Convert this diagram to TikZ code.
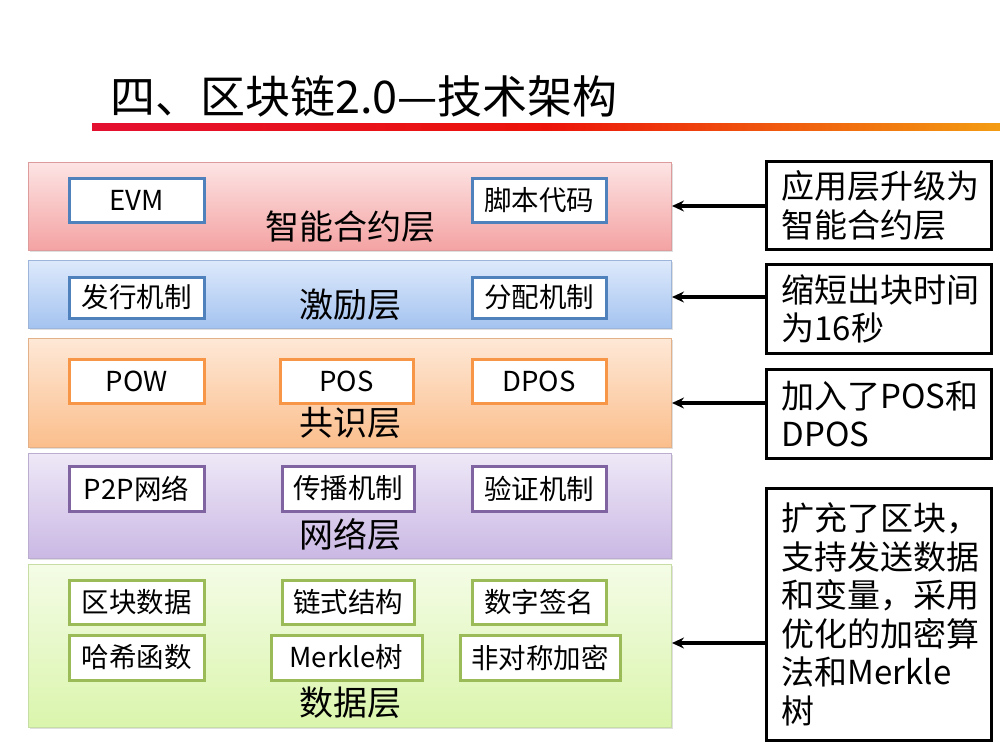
\documentclass[tikz,border=0pt]{standalone}
\usepackage{fontspec}
\setmainfont{Noto Sans CJK SC}
\usetikzlibrary{arrows.meta,shadows}
\definecolor{edgeblue}{RGB}{79,129,189}
\definecolor{edgeorange}{RGB}{247,150,70}
\definecolor{edgepurple}{RGB}{128,100,162}
\definecolor{edgegreen}{RGB}{155,187,89}
\definecolor{redtop}{RGB}{253,228,228}
\definecolor{redbot}{RGB}{244,162,162}
\definecolor{bluetop}{RGB}{221,233,251}
\definecolor{bluebot}{RGB}{164,195,240}
\definecolor{orangetop}{RGB}{254,232,214}
\definecolor{orangebot}{RGB}{251,190,140}
\definecolor{purpletop}{RGB}{238,232,247}
\definecolor{purplebot}{RGB}{202,184,228}
\definecolor{greentop}{RGB}{244,252,230}
\definecolor{greenbot}{RGB}{218,245,172}
\definecolor{barred}{RGB}{228,16,48}
\definecolor{barmid}{RGB}{236,20,10}
\definecolor{barorange}{RGB}{243,156,18}
\tikzset{
  layer/.style={anchor=north west, inner sep=0pt, shading=axis, draw=#1,
    line width=1pt, drop shadow={opacity=0.25, shadow xshift=1.2pt, shadow yshift=-1.5pt}},
  item/.style={draw=#1, line width=3pt, fill=white, inner sep=0pt,
    font=\fontsize{27.5}{30}\selectfont},
  tag/.style={font=\fontsize{34}{36}\selectfont, inner sep=0pt},
  note/.style={draw=black, line width=3.2pt, fill=white, anchor=north west,
    inner sep=0pt, align=left, font=\fontsize{33}{38.5}\selectfont},
  arr/.style={-{Stealth[length=12pt,width=11pt,inset=4pt]}, line width=3.8pt, black}
}
\begin{document}
\begin{tikzpicture}[x=1pt,y=-1pt]
\useasboundingbox[fill=white] (0,0) rectangle (1000,750);

% title and underline bar
\node[anchor=base west, inner sep=0pt, font=\fontsize{45}{50}\selectfont] (title) at (110,113) {四、区块链2.0—技术架构};
\shade[left color=barred, right color=barorange, middle color=barmid]
  (92,123) rectangle (1000,130);

% layers
\node[layer=redbot!80!gray, top color=redtop, bottom color=redbot, minimum width=643pt, minimum height=88pt] (l1) at (28,162) {};
\node[layer=bluebot!80!gray, top color=bluetop, bottom color=bluebot, minimum width=643pt, minimum height=68pt] (l2) at (28,260) {};
\node[layer=orangebot!80!gray, top color=orangetop, bottom color=orangebot, minimum width=643pt, minimum height=109pt] (l3) at (28,338) {};
\node[layer=purplebot!80!gray, top color=purpletop, bottom color=purplebot, minimum width=643pt, minimum height=105pt] (l4) at (28,453) {};
\node[layer=greenbot!80!gray, top color=greentop, bottom color=greenbot, minimum width=643pt, minimum height=163pt] (l5) at (28,564) {};

% smart contract layer
\node[item=edgeblue, minimum width=135pt, minimum height=44pt] (evm) at (136.5,200) {EVM};
\node[item=edgeblue, minimum width=134pt, minimum height=44pt] (script) at (539,200) {脚本代码};
\node[tag] (t1) at (350,227) {智能合约层};

% incentive layer
\node[item=edgeblue, minimum width=135pt, minimum height=41pt] (issue) at (136.5,297.5) {发行机制};
\node[item=edgeblue, minimum width=134pt, minimum height=41pt] (alloc) at (539,297.5) {分配机制};
\node[tag] (t2) at (350,305) {激励层};

% consensus layer
\node[item=edgeorange, minimum width=135pt, minimum height=44pt] (pow) at (136.5,381) {POW};
\node[item=edgeorange, minimum width=133pt, minimum height=44pt] (pos) at (346.5,381) {POS};
\node[item=edgeorange, minimum width=134pt, minimum height=44pt] (dpos) at (539,381) {DPOS};
\node[tag] (t3) at (350,423) {共识层};

% network layer
\node[item=edgepurple, minimum width=135pt, minimum height=45pt] (p2p) at (136.5,488.5) {P2P网络};
\node[item=edgepurple, minimum width=132pt, minimum height=45pt] (prop) at (348,488.5) {传播机制};
\node[item=edgepurple, minimum width=134pt, minimum height=45pt] (verify) at (539,488.5) {验证机制};
\node[tag] (t4) at (350,535) {网络层};

% data layer
\node[item=edgegreen, minimum width=135pt, minimum height=44pt] (blk) at (136.5,602) {区块数据};
\node[item=edgegreen, minimum width=132pt, minimum height=44pt] (chain) at (348,602) {链式结构};
\node[item=edgegreen, minimum width=134pt, minimum height=44pt] (sign) at (539,602) {数字签名};
\node[item=edgegreen, minimum width=135pt, minimum height=45pt] (hash) at (136.5,657.5) {哈希函数};
\node[item=edgegreen, minimum width=151pt, minimum height=45pt] (merkle) at (346.5,657.5) {Merkle树};
\node[item=edgegreen, minimum width=160pt, minimum height=45pt] (asym) at (540,657.5) {非对称加密};
\node[tag] (t5) at (350,703) {数据层};

% notes on the right
\node[note, minimum width=225pt, minimum height=88pt, text width=215pt] (n1) at (765,160) {\hspace*{10pt}应用层升级为\\\hspace*{10pt}智能合约层};
\node[note, minimum width=225pt, minimum height=89pt, text width=215pt] (n2) at (765,263) {\hspace*{10pt}缩短出块时间\\\hspace*{10pt}为16秒};
\node[note, minimum width=225pt, minimum height=89pt, text width=215pt] (n3) at (765,368) {\hspace*{10pt}加入了POS和\\\hspace*{10pt}DPOS};
\node[note, minimum width=225pt, minimum height=252pt, text width=215pt] (n4) at (765,487) {\hspace*{10pt}扩充了区块，\\\hspace*{10pt}支持发送数据\\\hspace*{10pt}和变量，采用\\\hspace*{10pt}优化的加密算\\\hspace*{10pt}法和Merkle\\\hspace*{10pt}树};

% connectors
\draw[arr] (n1.west |- 0,206) -- (l1.east |- 0,206);
\draw[arr] (n2.west |- 0,297) -- (l2.east |- 0,297);
\draw[arr] (n3.west |- 0,403) -- (l3.east |- 0,403);
\draw[arr] (n4.west |- 0,643) -- (l5.east |- 0,643);
\end{tikzpicture}
\end{document}
